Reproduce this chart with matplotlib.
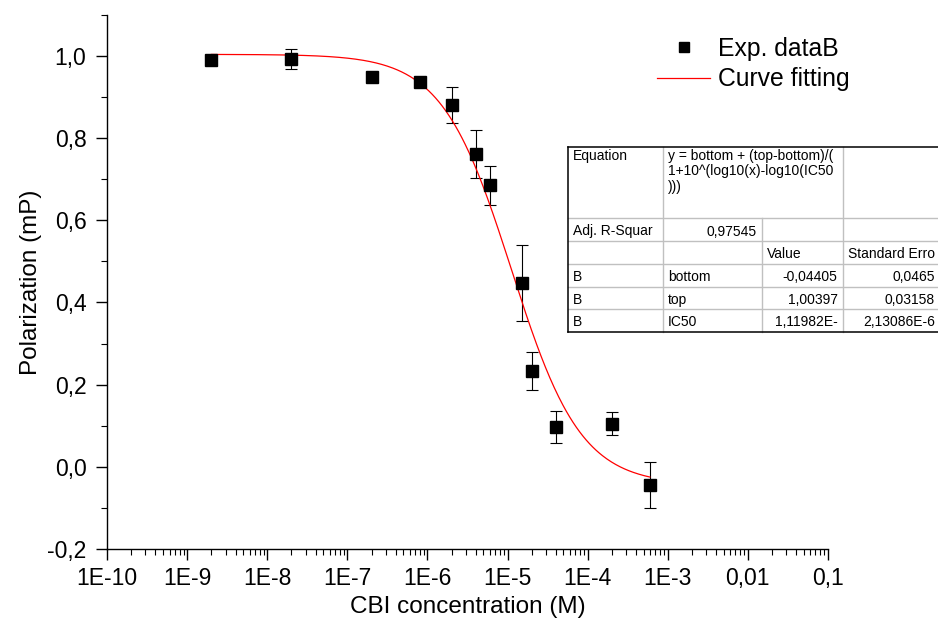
import numpy as np
import matplotlib
matplotlib.use('Agg')
import matplotlib.pyplot as plt
from matplotlib.lines import Line2D
from matplotlib.ticker import FixedLocator, FixedFormatter, LogLocator, NullFormatter, MultipleLocator

plt.rcParams['font.family'] = ['Liberation Sans', 'DejaVu Sans']

# measured points (concentration in M, polarization)
conc = [2e-9, 2e-8, 2e-7, 8e-7, 2e-6, 4e-6, 6e-6, 1.5e-5, 2e-5, 4e-5, 2e-4, 6e-4]
polar = [0.990, 0.993, 0.950, 0.936, 0.881, 0.762, 0.685, 0.448, 0.234, 0.097, 0.105, -0.044]
polar_err = [0.0, 0.025, 0.0, 0.0, 0.044, 0.058, 0.047, 0.093, 0.046, 0.038, 0.028, 0.056]

# fit parameters as printed in the table
fit_bottom = -0.04405
fit_top = 1.00397
fit_ic50 = 1.11982e-5

xtick_vals = [1e-10, 1e-9, 1e-8, 1e-7, 1e-6, 1e-5, 1e-4, 1e-3, 1e-2, 1e-1]
xtick_labels = ['1E-10', '1E-9', '1E-8', '1E-7', '1E-6', '1E-5', '1E-4', '1E-3', '0,01', '0,1']
ytick_vals = [-0.2, 0.0, 0.2, 0.4, 0.6, 0.8, 1.0]
ytick_labels = ['-0,2', '0,0', '0,2', '0,4', '0,6', '0,8', '1,0']

eq_lines = ['y = bottom + (top-bottom)/(', '1+10^(log10(x)-log10(IC50', ')))']
table_rows = [
    ['Adj. R-Squar', '0,97545', '', ''],
    ['', '', 'Value', 'Standard Erro'],
    ['B', 'bottom', '-0,04405', '0,0465'],
    ['B', 'top', '1,00397', '0,03158'],
    ['B', 'IC50', '1,11982E-', '2,13086E-6'],
]

W, H = 938, 633
fig = plt.figure(figsize=(W / 100, H / 100), dpi=100)
ax = fig.add_axes([107.3 / W, 1 - 549 / H, (827.7 - 107.3) / W, (549 - 14.9) / H])

x = np.array(conc)
y = np.array(polar)
e = np.array(polar_err)
has_err = e > 0
ax.errorbar(x[has_err], y[has_err], yerr=e[has_err], fmt='none', ecolor='black',
            elinewidth=0.8, capsize=4.3, capthick=0.8, zorder=2)

xf = np.logspace(np.log10(conc[0]), np.log10(conc[-1]), 400)
yf = fit_bottom + (fit_top - fit_bottom) / (1 + 10 ** (np.log10(xf) - np.log10(fit_ic50)))
ax.plot(xf, yf, color='red', lw=0.9, zorder=3)
ax.plot(x, y, 's', color='black', ms=8, zorder=4)

ax.set_xscale('log')
ax.set_xlim(1e-10, 0.1)
ax.set_ylim(-0.2, 1.1)
ax.xaxis.set_major_locator(FixedLocator(xtick_vals))
ax.xaxis.set_major_formatter(FixedFormatter(xtick_labels))
ax.xaxis.set_minor_locator(LogLocator(base=10, subs=np.arange(2, 10), numticks=30))
ax.xaxis.set_minor_formatter(NullFormatter())
ax.yaxis.set_major_locator(FixedLocator(ytick_vals))
ax.yaxis.set_major_formatter(FixedFormatter(ytick_labels))
ax.yaxis.set_minor_locator(MultipleLocator(0.1))

for side in ['top', 'right']:
    ax.spines[side].set_visible(False)
for side in ['left', 'bottom']:
    ax.spines[side].set_linewidth(1.0)
ax.tick_params(which='major', direction='out', length=8, width=1.0, labelsize=16.5, pad=5)
ax.tick_params(axis='y', which='major', pad=7)
ax.tick_params(which='minor', direction='out', length=4.5, width=0.8)

ax.set_xlabel('CBI concentration (M)', fontsize=17.5, labelpad=4.5)
ax.set_ylabel('Polarization (mP)', fontsize=17.5, labelpad=4)

handles = [Line2D([], [], marker='s', color='black', ls='none', ms=7.5),
           Line2D([], [], color='red', lw=0.9)]
ax.legend(handles, ['Exp. dataB', 'Curve fitting'], loc='upper left',
          bbox_to_anchor=(657 / W, 1 - 37 / H), bbox_transform=fig.transFigure,
          frameon=False, fontsize=17.8, handlelength=2.15, handletextpad=0.33,
          borderpad=0, borderaxespad=0, labelspacing=0.25)


# results table (pixel layout, clipped by figure edge on the right)
def fx(px):
    return px / W


def fy(py):
    return 1 - py / H


col_x = [568.3, 662.7, 761.7, 842.7, 940.0]
row_y = [146.7, 218.0, 241.0, 263.8, 286.6, 309.3, 332.0]
grey = '#c0c0c0'
tfs = 10.0


def hline(py, x0, x1, color, lw):
    fig.add_artist(Line2D([fx(x0), fx(x1)], [fy(py), fy(py)], color=color, lw=lw, zorder=6))


def vline(px, y0, y1, color, lw):
    fig.add_artist(Line2D([fx(px), fx(px)], [fy(y0), fy(y1)], color=color, lw=lw, zorder=6))


fig.add_artist(plt.Rectangle((fx(col_x[0]), fy(row_y[-1])), fx(col_x[-1]) - fx(col_x[0]),
                             fy(row_y[0]) - fy(row_y[-1]), transform=fig.transFigure,
                             facecolor='white', edgecolor='none', zorder=5))
for ry in row_y[1:-1]:
    hline(ry, col_x[0], col_x[-1], grey, 1.0)
vline(col_x[1], row_y[0], row_y[-1], grey, 1.0)
vline(col_x[2], row_y[1], row_y[-1], grey, 1.0)
vline(col_x[3], row_y[0], row_y[-1], grey, 1.0)
hline(row_y[0], col_x[0], col_x[-1], 'black', 1.1)
hline(row_y[-1], col_x[0], col_x[-1], 'black', 1.1)
vline(col_x[0], row_y[0], row_y[-1], 'black', 1.1)


def cell_text(px, py, s, ha):
    fig.text(fx(px), fy(py), s, fontsize=tfs, va='baseline', ha=ha, zorder=7)


cell_text(col_x[0] + 5, 160, 'Equation', 'left')
for i, line in enumerate(eq_lines):
    cell_text(col_x[1] + 5, 160 + 15.5 * i, line, 'left')

for r, row in enumerate(table_rows):
    base = row_y[r + 2] - 5.5
    for c, txt in enumerate(row):
        if not txt:
            continue
        if txt[0].isdigit() or txt[0] == '-':
            cell_text(col_x[c + 1] - 5, base, txt, 'right')
        else:
            cell_text(col_x[c] + 5, base, txt, 'left')

fig.savefig('out.png', dpi=100)
